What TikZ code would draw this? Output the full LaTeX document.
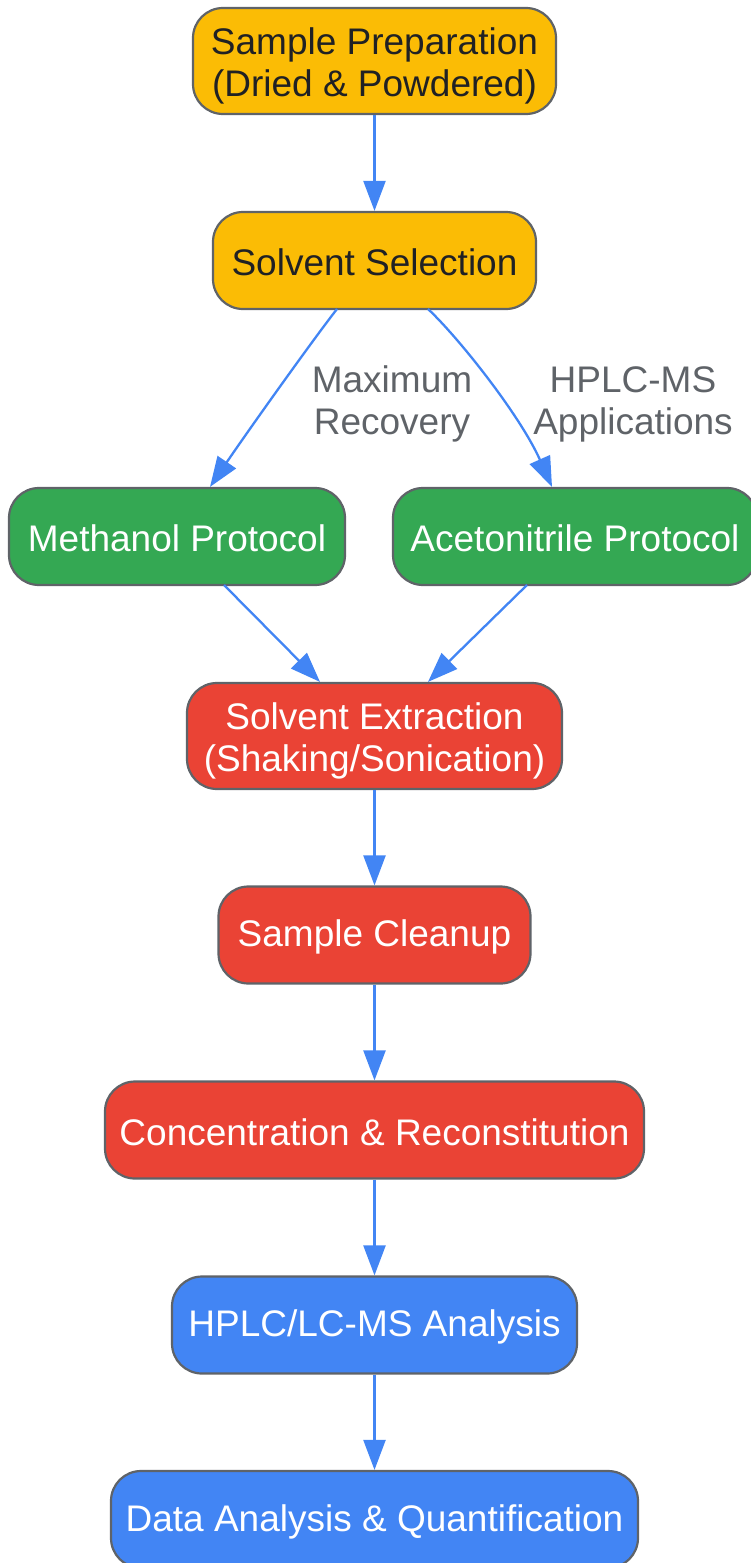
\documentclass[tikz,border=0pt]{standalone}
\usepackage{fontspec}
\setmainfont{Liberation Sans}
\usetikzlibrary{arrows.meta}
\definecolor{gy}{HTML}{FBBC05}
\definecolor{gg}{HTML}{34A853}
\definecolor{gr}{HTML}{EA4335}
\definecolor{gb}{HTML}{4285F4}
\definecolor{gline}{HTML}{5F6368}
\definecolor{gtext}{HTML}{202124}
\newcommand\twolines[2]{\raisebox{-6pt}[\height][\depth]{\begin{tabular}{@{}c@{}}#1\\#2\end{tabular}}}
\tikzset{
  box/.style={draw=gline, line width=2.2pt, rounded corners=30pt, align=center,
    font=\fontsize{37}{42}\selectfont, inner sep=0pt, minimum height=97pt},
  oneline/.style={execute at begin node={\rule{0pt}{31pt}}},
  twoline/.style={minimum height=106pt},
  ybox/.style={box, fill=gy, text=gtext},
  gbox/.style={box, fill=gg, text=white},
  rbox/.style={box, fill=gr, text=white},
  bbox/.style={box, fill=gb, text=white},
  conn/.style={draw=gb, line width=2.3pt, -{Triangle[length=30pt,width=22pt]}},
  lbl/.style={text=gline, align=center, font=\fontsize{37}{42}\selectfont}
}
\begin{document}
\begin{tikzpicture}[x=1pt,y=-1pt]
\useasboundingbox (0,0) rectangle (750,1563);
\node[ybox, twoline, minimum width=363pt] (prep) at (374.5,61) {\twolines{Sample Preparation}{(Dried \& Powdered)}};
\node[ybox, oneline, minimum width=323pt] (sel) at (374.5,260.5) {Solvent Selection};
\node[gbox, oneline, minimum width=336pt] (meth) at (177,536.5) {Methanol Protocol};
\node[gbox, oneline, minimum width=364pt] (acet) at (575,536.5) {Acetonitrile Protocol};
\node[rbox, twoline, minimum width=375pt] (ext) at (374.5,736) {\twolines{Solvent Extraction}{(Shaking/Sonication)}};
\node[rbox, oneline, minimum width=312pt] (clean) at (374.5,935) {Sample Cleanup};
\node[rbox, oneline, minimum width=539pt] (conc) at (374.5,1130) {Concentration \& Reconstitution};
\node[bbox, oneline, minimum width=405pt] (hplc) at (374.5,1325) {HPLC/LC-MS Analysis};
\node[bbox, oneline, minimum width=527pt] (data) at (374.5,1519.5) {Data Analysis \& Quantification};

\draw[conn] (prep) -- (sel);
\coordinate (s1) at (337,309);
\coordinate (s2) at (428,309);
\draw[conn] (s1) .. controls (315,337) and (250,428) .. (meth.north -| 210,0);
\draw[conn] (s2) .. controls (458,337) and (520,415) .. (acet.north -| 552,0);
\node[lbl] (l1) at (392,404) {Maximum\\Recovery};
\node[lbl] (l2) at (633,404) {HPLC-MS\\Applications};
\coordinate (m1) at (224,585);
\coordinate (a1) at (527,585);
\draw[conn] (m1) -- (ext.north -| 320,0);
\draw[conn] (a1) -- (ext.north -| 428,0);
\draw[conn] (ext) -- (clean);
\draw[conn] (clean) -- (conc);
\draw[conn] (conc) -- (hplc);
\draw[conn] (hplc) -- (data);
\end{tikzpicture}
\end{document}
